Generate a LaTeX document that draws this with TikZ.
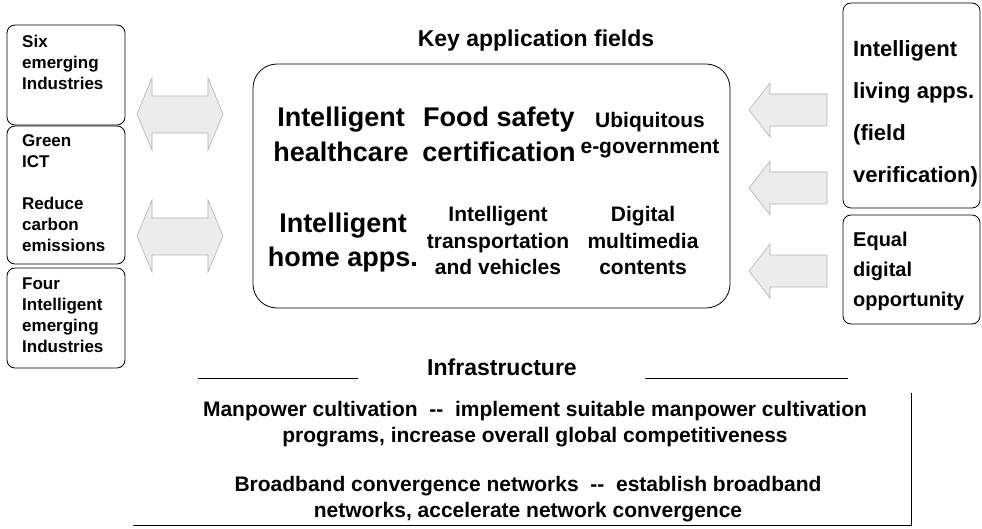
\documentclass[tikz,border=0pt]{standalone}
\usepackage{fontspec}
\setmainfont{Liberation Sans}
\usepackage{tikz}
\tikzset{sidebox/.style={
            draw,
            line width=0.8pt,
            rounded corners=8pt,
            inner sep=0pt,
            minimum width=118pt
        },
        sidetext/.style={
            anchor=base west,
            align=left,
            inner sep=0pt,
            font=\fontsize{17}{21}\selectfont\bfseries
        },
        fieldbox/.style={
            draw,
            line width=0.8pt,
            rounded corners=24pt,
            inner sep=0pt
        },
        bigfield/.style={
            anchor=base,
            align=center,
            inner sep=0pt,
            font=\fontsize{27}{35}\selectfont\bfseries
        },
        smallfield/.style={
            anchor=base,
            align=center,
            inner sep=0pt,
            font=\fontsize{21}{26.5}\selectfont\bfseries
        },
        heading/.style={
            anchor=base,
            inner sep=0pt,
            font=\fontsize{23}{28}\selectfont\bfseries
        },
        infotext/.style={
            anchor=base,
            align=center,
            inner sep=0pt,
            font=\fontsize{21}{26}\selectfont\bfseries
        },
        blockarrow/.style={
            fill=gray!15,
            draw=gray!60,
            line width=0.6pt
        }
    }

\begin{document}
\begin{tikzpicture}[x=1pt,y=-1pt]
        \useasboundingbox (0,0) rectangle (982,529);
        % left boxes (text placed at the baseline of its last line)
        \node[sidebox,minimum height=100pt] at (66,75) (six) {};
        \node[sidebox,minimum height=138pt] at (66,195) (green) {};
        \node[sidebox,minimum height=100pt] at (66,318) (four) {};
        \node[sidetext] at (22,90) (sixtext) {Six\\emerging\\Industries};
        \node[sidetext] at (22,252) (greentext) {Green\\ICT\\[21pt]Reduce\\carbon\\emissions};
        \node[sidetext] at (22,352) (fourtext) {Four\\Intelligent\\emerging\\Industries};
        % double arrows on the left
        \draw[blockarrow] (137,114) -- (152,78) -- (152,96) -- (208,96) -- (208,78) -- (223,114)
            -- (208,150) -- (208,133) -- (152,133) -- (152,150) -- cycle;
        \draw[blockarrow] (137,236) -- (152,200) -- (152,218) -- (208,218) -- (208,200) -- (223,236)
            -- (208,272) -- (208,255) -- (152,255) -- (152,272) -- cycle;
        % key application fields
        \node[heading] at (536,47) (keytitle) {Key application fields};
        \node[fieldbox,minimum width=477pt,minimum height=244pt] at (491.5,186) (fields) {};
        \node[bigfield] at (341,162) (health) {Intelligent\\healthcare};
        \node[bigfield] at (499,162) (food) {Food safety\\certification};
        \node[smallfield] at (650,154) (egov) {Ubiquitous\\e-government};
        \node[bigfield] at (343,267) (home) {Intelligent\\home apps.};
        \node[smallfield] at (498,275) (transport) {Intelligent\\transportation\\and vehicles};
        \node[smallfield] at (643,275) (media) {Digital\\multimedia\\contents};
        % arrows on the right
        \foreach \y in {110,188,271}
            \draw[blockarrow] (749,\y) -- (770,\y-27) -- (770,\y-16) -- (827,\y-16)
                -- (827,\y+16) -- (770,\y+16) -- (770,\y+27) -- cycle;
        % right boxes
        \node[sidebox,minimum width=137pt,minimum height=205pt] at (911.5,105.5) (living) {};
        \node[sidebox,minimum width=137pt,minimum height=109pt] at (911.5,269.5) (equal) {};
        \node[sidetext,font=\fontsize{22}{42}\selectfont\bfseries] at (853,183) (livingtext)
            {Intelligent\\living apps.\\(field\\verification)};
        \node[sidetext,font=\fontsize{20}{30}\selectfont\bfseries] at (853,306) (equaltext)
            {Equal\\digital\\opportunity};
        % infrastructure
        \node[heading] at (502,375) (infra) {Infrastructure};
        \draw[line width=0.8pt] (198,378) -- (358,378);
        \draw[line width=0.8pt] (645,378) -- (848,378);
        \draw[line width=0.8pt] (911,393) -- (911,525) -- (133,525);
        \node[infotext] at (535,442) (manpower)
            {Manpower cultivation\ \ -{}-\ \ implement suitable manpower cultivation\\programs, increase overall global competitiveness};
        \node[infotext] at (528,517) (broadband)
            {Broadband convergence networks\ \ -{}-\ \ establish broadband\\networks, accelerate network convergence};
    \end{tikzpicture}
\end{document}
